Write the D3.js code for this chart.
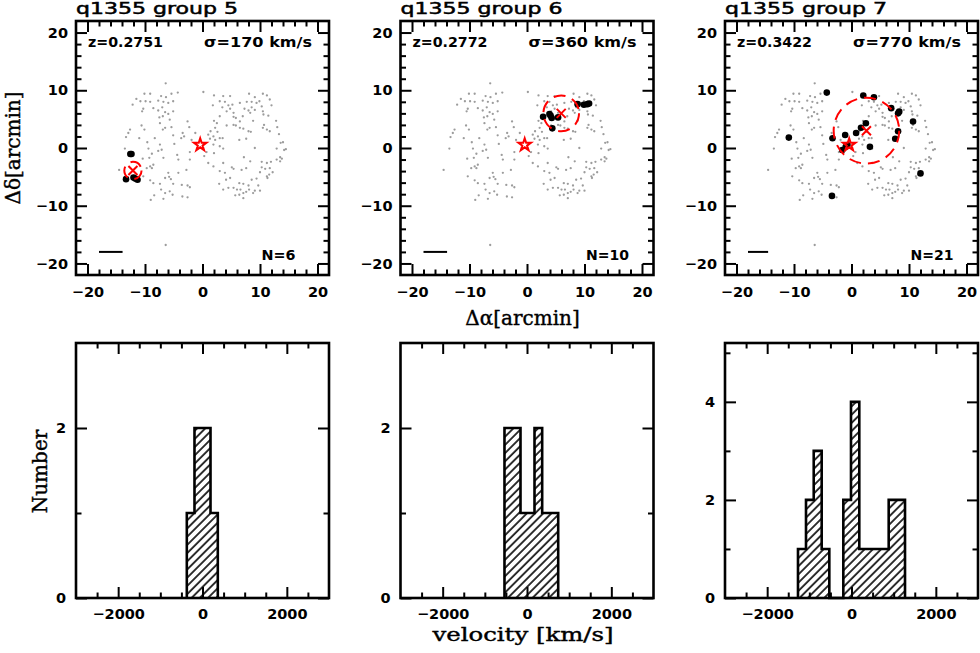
<!DOCTYPE html>
<html>
<head>
<meta charset="utf-8">
<script src="https://cdn.jsdelivr.net/npm/d3@7"></script>
<style>
  body { margin: 0; background: #fff; }
  svg { display: block; }
  .tick text { font-family: "DejaVu Sans", sans-serif; font-weight: bold; font-size: 14.5px; fill: #000; }
  .tick line { stroke: #000; stroke-width: 2; }
</style>
</head>
<body>
<svg id="chart" width="980" height="653"></svg>
<script>
// panel headers
var groupNames = ["q1355 group 5", "q1355 group 6", "q1355 group 7"];
var redshifts = ["0.2751", "0.2772", "0.3422"];
var sigmas = [170, 360, 770];
var members = [6, 10, 21];

// field galaxies, offsets in arcmin (same in every panel)
var fieldGalaxies = [
  [-6.4,11.2],[-10.1,9.4],[-9.1,9.4],[-11.5,8.5],[-10.8,8.1],[-9.9,8.1],[-9.1,8.0],[-7.2,9.0],[-6.35,8.8],[-5.4,9.4],
  [-4.3,9.6],[-7.7,8.2],[-6.8,8.0],[-5.95,7.8],[-5.1,8.1],[-12.15,7.5],[-10.3,6.8],[-8.55,6.9],[-7.0,7.05],[-10.5,6.35],
  [-7.7,6.5],[-6.5,6.2],[-5.95,5.9],[-5.1,6.35],[-7.5,5.3],[-6.9,5.5],[-5.7,4.9],[-2.6,4.6],[-10.6,3.9],[-7.4,4.3],
  [-2.3,3.6],[-1.25,2.6],[-12.6,3.2],[-10.1,3.2],[-6.5,3.5],[-5.4,3.6],[-12.9,2.6],[-6.9,3.2],[-13.3,1.9],[-3.45,2.6],
  [-5.1,2.2],[-3.7,1.7],[-3.2,2.0],[-11.0,1.7],[-8.3,1.7],[-1.9,1.4],[-9.6,1.0],[-7.4,0.6],[-4.9,0.7],[-13.5,-0.1],
  [-9.4,-0.1],[-7.1,-0.3],[-7.7,-0.5],[-4.4,-1.2],[-2.2,-0.7],[-8.8,-1.0],[-10.4,-1.85],[-9.25,-1.7],[-6.8,-1.7],[-4.2,-2.0],
  [-8.55,-2.9],[-9.1,-3.2],[-2.2,-2.0],[-14.5,-3.8],[-2.8,-3.8],[-9.7,-3.5],[-8.8,-3.5],[-5.95,-4.3],[-4.2,-4.3],[-10.3,-4.9],
  [-5.8,-5.0],[-5.5,-5.4],[-6.5,-5.2],[-9.1,-5.6],[-8.55,-6.1],[-7.4,-6.2],[-5.1,-6.2],[-3.6,-6.4],[-2.6,-6.5],[-2.2,-6.8],
  [-7.2,-7.2],[-5.7,-7.5],[-8.4,-8.2],[-6.5,-7.8],[-5.2,-8.1],[-6.8,-8.8],[-3.5,-8.4],[-2.6,-8.55],[-9.0,-9.0],[-6.4,-16.8],
  [0.15,9.7],[2.0,9.1],[3.6,9.0],[4.8,9.0],[8.1,9.4],[9.1,8.8],[10.5,9.4],[11.2,9.1],[3.0,8.1],[3.9,8.0],
  [4.5,7.4],[5.2,7.5],[6.5,7.8],[7.7,8.0],[8.55,8.0],[9.4,7.8],[9.9,8.1],[11.7,8.4],[1.8,7.4],[3.45,7.05],
  [4.8,6.8],[7.3,6.8],[8.55,7.05],[10.3,7.2],[12.0,7.4],[4.2,6.35],[5.4,6.1],[8.0,6.5],[8.3,6.1],[9.1,6.6],
  [10.5,6.35],[3.0,5.5],[5.4,5.4],[5.8,5.2],[7.0,5.5],[10.6,5.8],[11.45,5.6],[2.0,4.7],[2.5,4.3],[6.5,4.6],
  [8.8,4.7],[12.8,4.7],[4.2,3.9],[5.4,4.0],[5.8,3.9],[10.7,4.0],[2.2,3.5],[6.5,3.5],[7.1,3.35],[10.5,3.5],
  [11.2,3.2],[13.0,3.6],[1.4,2.9],[2.6,2.8],[8.0,2.9],[8.4,2.8],[11.7,2.9],[1.0,2.3],[1.9,2.0],[13.3,2.4],
  [1.3,1.6],[2.2,1.4],[3.0,1.7],[3.5,1.7],[6.4,1.4],[7.6,1.6],[14.0,1.0],[13.6,0.9],[0.15,0.6],[1.9,0.6],
  [3.6,-0.1],[3.0,0.3],[9.1,0.0],[12.9,-0.1],[14.5,-0.2],[14.2,-0.35],[0.7,-0.7],[2.0,-0.9],[0.3,-1.4],[7.2,-1.6],
  [13.5,-1.6],[13.8,-1.85],[1.0,-2.6],[1.9,-3.2],[3.6,-2.6],[8.3,-2.3],[10.3,-2.4],[11.2,-2.6],[11.9,-2.4],[12.9,-2.0],
  [13.5,-2.3],[3.0,-4.0],[3.9,-4.3],[5.1,-3.35],[5.4,-3.6],[6.8,-3.8],[7.6,-3.5],[10.3,-3.35],[10.9,-3.6],[11.7,-3.5],
  [12.2,-4.2],[10.0,-4.2],[4.1,-5.5],[4.8,-5.2],[9.4,-5.3],[8.55,-5.5],[11.2,-4.9],[11.6,-4.6],[11.3,-5.2],[2.9,-6.2],
  [7.1,-6.2],[6.4,-6.1],[8.0,-6.5],[9.7,-6.5],[3.6,-7.2],[4.5,-6.9],[5.4,-6.9],[6.0,-7.2],[6.6,-7.2],[8.1,-7.2],
  [9.1,-7.4],[10.0,-7.4],[5.7,-8.2],[6.4,-8.1],[7.1,-7.8],[7.6,-7.6],[8.8,-7.8],[7.1,-8.7]
];

// group members, arcmin
var group5Members = [[-12.55,-1.05],[-12.35,-1.05],[-13.3,-5.4],[-12.0,-5.1],[-11.7,-5.3],[-11.3,-5.5]];
var group6Members = [[2.8,5.4],[3.9,5.9],[4.1,5.6],[4.3,5.2],[5.4,5.3],[4.4,3.4],[8.8,7.6],[9.9,7.5],[10.5,7.6],[10.8,7.7]];
var group7Members = [[-4.3,9.6],[2.05,9.1],[3.9,8.8],[6.9,6.9],[8.3,6.3],[8.1,6.0],[10.7,4.6],[8.1,2.9],[7.6,1.6],[-10.9,1.8],
  [-3.3,1.7],[-1.1,2.25],[0.8,2.6],[1.65,3.5],[2.5,4.3],[3.2,0.2],[-1.6,-0.35],[-1.0,0.2],[-0.7,0.5],[12.0,-4.4],[-3.4,-8.3]];
var groupCentres = [[-12.1,-3.9],[5.95,6.0],[2.6,3.0]];
var groupRadii = [1.5, 3.1, 5.7];
var quasar = [-0.4, 0.55];
var scaleBar = [4.1, 4.1, 3.5];   // arcmin, starting at x=-18, y=-18

// velocity histograms (km/s)
var hist5Edges = [-372, -190, 190, 363];
var hist5Counts = [1, 2, 1];
var hist6Edges = [-534, -154, 178, 360, 740];
var hist6Counts = [2, 1, 2, 1];
var hist7Edges = [-1269, -1079, -896, -707, -526, -194, -12, 185, 882, 1269];
var hist7Counts = [1, 2, 3, 1, 0, 2, 4, 1, 2];
var histMax = [3, 3, 5.2];

var svg = d3.select("#chart");
var panelLeft = [76, 400.5, 725], panelW = 253;
var topY = 21, topH = 254, botY = 343, botH = 255;

var defs = svg.append("defs");
defs.append("pattern").attr("id", "hatch")
    .attr("patternUnits", "userSpaceOnUse")
    .attr("width", 5.8).attr("height", 5.8)
    .attr("patternTransform", "rotate(45)")
  .append("line")
    .attr("x1", 1).attr("y1", 0).attr("x2", 1).attr("y2", 5.8)
    .attr("stroke", "#000").attr("stroke-width", 1.6);

function frame(g, x, y, w, h, o) {
    g.append("g").attr("transform", "translate(0," + h + ")")
        .call(d3.axisBottom(x).tickValues(o.xMinor).tickSizeInner(-5.5).tickSizeOuter(0).tickFormat(""));
    g.append("g").attr("transform", "translate(0," + h + ")")
        .call(d3.axisBottom(x).tickValues(o.xMajor).tickSizeInner(-11).tickSizeOuter(0)
            .tickPadding(o.xPad).tickFormat(o.xFmt));
    g.append("g")
        .call(d3.axisTop(x).tickValues(o.xMinor).tickSizeInner(-5.5).tickSizeOuter(0).tickFormat(""));
    g.append("g")
        .call(d3.axisTop(x).tickValues(o.xMajor).tickSizeInner(-11).tickSizeOuter(0).tickFormat(""));
    g.append("g")
        .call(d3.axisLeft(y).tickValues(o.yMinor).tickSizeInner(-5.5).tickSizeOuter(0).tickFormat(""));
    g.append("g")
        .call(d3.axisLeft(y).tickValues(o.yMajor).tickSizeInner(-11).tickSizeOuter(0)
            .tickPadding(o.yPad).tickFormat(o.yFmt));
    g.append("g").attr("transform", "translate(" + w + ",0)")
        .call(d3.axisRight(y).tickValues(o.yMinor).tickSizeInner(-5.5).tickSizeOuter(0).tickFormat(""));
    g.append("g").attr("transform", "translate(" + w + ",0)")
        .call(d3.axisRight(y).tickValues(o.yMajor).tickSizeInner(-11).tickSizeOuter(0).tickFormat(""));
    g.selectAll(".domain").remove();
    g.append("rect").attr("width", w).attr("height", h)
        .attr("fill", "none").attr("stroke", "#000").attr("stroke-width", 2.6);
}

var membersList = [group5Members, group6Members, group7Members];
var histEdges = [hist5Edges, hist6Edges, hist7Edges];
var histCounts = [hist5Counts, hist6Counts, hist7Counts];
var intFmt = d3.format("d");

// ---- sky maps ----
for (var i = 0; i < 3; i++) {
    var g = svg.append("g").attr("transform", "translate(" + panelLeft[i] + "," + topY + ")");
    var x = d3.scaleLinear().domain([-22, 22]).range([0, panelW]);
    var y = d3.scaleLinear().domain([-22, 22]).range([topH, 0]);

    g.selectAll(".field").data(fieldGalaxies).enter().append("circle")
        .attr("cx", function(d) { return x(d[0]); })
        .attr("cy", function(d) { return y(d[1]); })
        .attr("r", 1.15).attr("fill", "#9c9c9c");

    g.append("line")
        .attr("x1", x(-18)).attr("x2", x(-18 + scaleBar[i]))
        .attr("y1", y(-18)).attr("y2", y(-18))
        .attr("stroke", "#000").attr("stroke-width", 2);

    g.selectAll(".member").data(membersList[i]).enter().append("circle")
        .attr("cx", function(d) { return x(d[0]); })
        .attr("cy", function(d) { return y(d[1]); })
        .attr("r", 3.3).attr("fill", "#000");

    var c = groupCentres[i];
    g.append("ellipse")
        .attr("cx", x(c[0])).attr("cy", y(c[1]))
        .attr("rx", x(groupRadii[i]) - x(0)).attr("ry", y(0) - y(groupRadii[i]))
        .attr("fill", "none").attr("stroke", "#ff0000").attr("stroke-width", 2)
        .attr("stroke-dasharray", "12,7");
    var cx = x(c[0]), cy = y(c[1]), s = 4.5;
    g.append("path")
        .attr("d", "M" + (cx - s) + "," + (cy - s) + "L" + (cx + s) + "," + (cy + s) +
                   "M" + (cx - s) + "," + (cy + s) + "L" + (cx + s) + "," + (cy - s))
        .attr("stroke", "#ff0000").attr("stroke-width", 2).attr("fill", "none");

    g.append("path")
        .attr("transform", "translate(" + x(quasar[0]) + "," + y(quasar[1]) + ")")
        .attr("d", d3.symbol(d3.symbolStar).size(48)())
        .attr("fill", "none").attr("stroke", "#ff0000").attr("stroke-width", 2);

    g.append("text").attr("x", 12).attr("y", 26)
        .attr("font-family", "DejaVu Sans").attr("font-weight", "bold").attr("font-size", 13.5)
        .attr("textLength", 75).attr("lengthAdjust", "spacingAndGlyphs")
        .text("z=" + redshifts[i]);
    g.append("text").attr("x", 128).attr("y", 26)
        .attr("font-family", "DejaVu Sans").attr("font-weight", "bold").attr("font-size", 13.5)
        .attr("textLength", 108).attr("lengthAdjust", "spacingAndGlyphs")
        .text("\u03c3=" + sigmas[i] + " km/s");
    g.append("text").attr("x", 185.5).attr("y", 238.5)
        .attr("font-family", "DejaVu Sans").attr("font-weight", "bold").attr("font-size", 13.5)
        .attr("textLength", members[i] < 10 ? 34 : 43).attr("lengthAdjust", "spacingAndGlyphs")
        .text("N=" + members[i]);

    frame(g, x, y, panelW, topH, {
        xMajor: [-20, -10, 0, 10, 20],
        xMinor: [-18, -16, -14, -12, -8, -6, -4, -2, 2, 4, 6, 8, 12, 14, 16, 18],
        yMajor: [-20, -10, 0, 10, 20],
        yMinor: [-18, -16, -14, -12, -8, -6, -4, -2, 2, 4, 6, 8, 12, 14, 16, 18],
        xFmt: intFmt, yFmt: intFmt, xPad: 12, yPad: 8
    });

    svg.append("text").attr("x", panelLeft[i]).attr("y", 13.5)
        .attr("font-family", "DejaVu Sans").attr("font-size", 16)
        .attr("stroke", "#000").attr("stroke-width", 0.5)
        .attr("textLength", 162).attr("lengthAdjust", "spacingAndGlyphs")
        .text(groupNames[i]);
}

// ---- velocity histograms ----
for (var j = 0; j < 3; j++) {
    var hg = svg.append("g").attr("transform", "translate(" + panelLeft[j] + "," + botY + ")");
    var hx = d3.scaleLinear().domain([-3000, 3000]).range([0, panelW]);
    var hy = d3.scaleLinear().domain([0, histMax[j]]).range([botH, 0]);

    var edges = histEdges[j], counts = histCounts[j];
    var pts = [[edges[0], 0]];
    counts.forEach(function(n, k) { pts.push([edges[k], n]); pts.push([edges[k + 1], n]); });
    pts.push([edges[edges.length - 1], 0]);

    var line = d3.line().x(function(d) { return hx(d[0]); }).y(function(d) { return hy(d[1]); });
    hg.append("path").attr("d", line(pts))
        .attr("fill", "url(#hatch)").attr("stroke", "#000").attr("stroke-width", 2.6)
        .attr("stroke-linejoin", "miter");

    frame(hg, hx, hy, panelW, botH, {
        xMajor: [-2000, 0, 2000],
        xMinor: [-2500, -1500, -1000, -500, 500, 1000, 1500, 2500],
        yMajor: j === 2 ? [0, 2, 4] : [0, 2],
        yMinor: j === 2 ? [1, 3, 5] : [1],
        xFmt: intFmt, yFmt: intFmt, xPad: 10.5, yPad: 10
    });
}

// ---- axis titles ----
function axisTitle(sel) {
    return sel.attr("text-anchor", "middle").attr("font-family", "DejaVu Serif")
        .attr("stroke", "#000").attr("stroke-width", 0.4);
}
axisTitle(svg.append("text").attr("transform", "translate(20,148) rotate(-90)"))
    .attr("font-size", 20).text("\u0394\u03b4[arcmin]");
axisTitle(svg.append("text").attr("x", 522.5).attr("y", 325))
    .attr("font-size", 20).text("\u0394\u03b1[arcmin]");
axisTitle(svg.append("text").attr("transform", "translate(46.5,471.5) rotate(-90)"))
    .attr("font-size", 20).text("Number");
axisTitle(svg.append("text").attr("x", 523).attr("y", 641))
    .attr("font-size", 18.5).attr("textLength", 181).attr("lengthAdjust", "spacingAndGlyphs")
    .text("velocity [km/s]");
</script>
</body>
</html>
